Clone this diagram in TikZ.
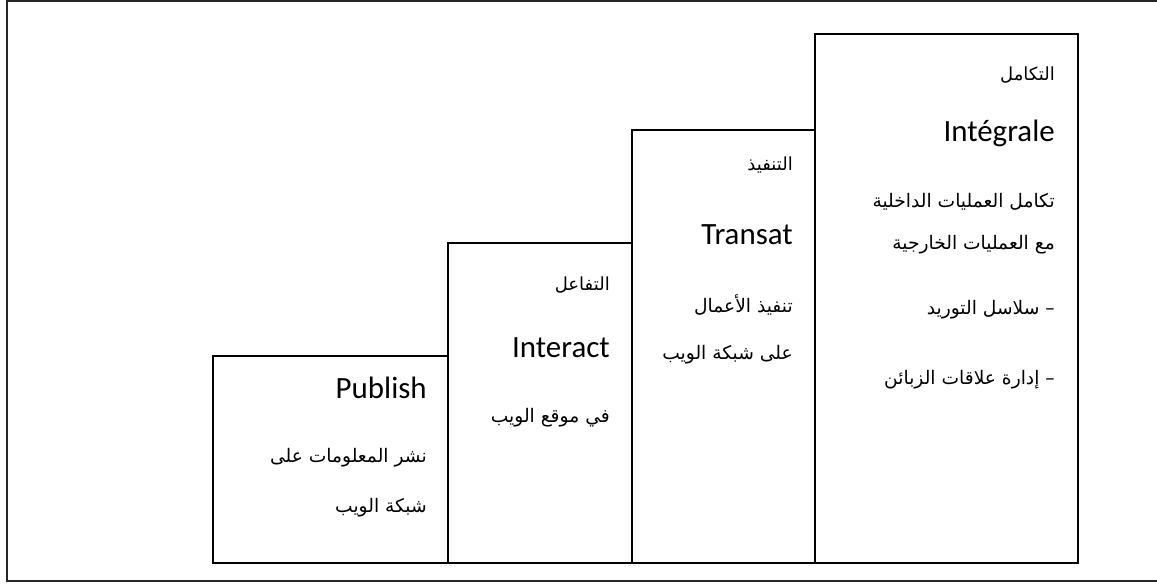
\documentclass[tikz,border=0pt]{standalone}
\usepackage{fontspec}
\setmainfont{Carlito}
\newfontfamily\arabicfont[Script=Arabic]{DejaVu Sans}
\TeXXeTstate=1
\newcommand{\ar}[1]{{\arabicfont\beginR #1\endR}}
\begin{document}
\begin{tikzpicture}[x=0.75pt,y=-0.75pt,
  stepbox/.style={draw=black,line width=1.4pt,fill=white,inner sep=0pt,anchor=south west},
  latin/.style={inner sep=0pt,anchor=east,font=\fontsize{23.2}{26}\selectfont},
  arab/.style={inner sep=0pt,anchor=east,font=\fontsize{14}{17}\selectfont},
  small/.style={inner sep=0pt,anchor=east,font=\fontsize{13.5}{16}\selectfont}]
\useasboundingbox (0,0) rectangle (1157,585);
% outer frame (its right side lies past the page edge)
\draw[line width=1.3pt,black!85] (1170,1) -- (7,1) -- (7,581) -- (1170,581);

% the four steps
\node[stepbox,minimum width=235*0.75pt,minimum height=207*0.75pt] (b1) at (212,564) {};
\node[stepbox,minimum width=184*0.75pt,minimum height=320*0.75pt] (b2) at (447,564) {};
\node[stepbox,minimum width=183*0.75pt,minimum height=433*0.75pt] (b3) at (631,564) {};
\node[stepbox,minimum width=263*0.75pt,minimum height=529*0.75pt] (b4) at (814,564) {};

% Publish
\node[latin] (t1) at (427,388) {Publish};
\node[arab] (a11) at (427,458) {\ar{نشر المعلومات على}};
\node[arab] (a12) at (427,508) {\ar{شبكة الويب}};

% Interact
\node[small] (h2) at (610,285) {\ar{التفاعل}};
\node[latin] (t2) at (610,348) {Interact};
\node[arab] (a21) at (610,418) {\ar{في موقع الويب}};

% Transat
\node[small] (h3) at (793,165) {\ar{التنفيذ}};
\node[latin] (t3) at (793,235) {Transat};
\node[arab] (a31) at (793,305) {\ar{تنفيذ الأعمال}};
\node[arab] (a32) at (793,355) {\ar{على شبكة الويب}};

% Intégrale
\node[small] (h4) at (1055,75) {\ar{التكامل}};
\node[latin] (t4) at (1055,133) {Intégrale};
\node[arab] (a41) at (1055,202) {\ar{تكامل العمليات الداخلية}};
\node[arab] (a42) at (1055,245) {\ar{مع العمليات الخارجية}};
\node[arab] (a43) at (1055,310) {\ar{– سلاسل التوريد}};
\node[arab] (a44) at (1055,380) {\ar{– إدارة علاقات الزبائن}};
\end{tikzpicture}
\end{document}
